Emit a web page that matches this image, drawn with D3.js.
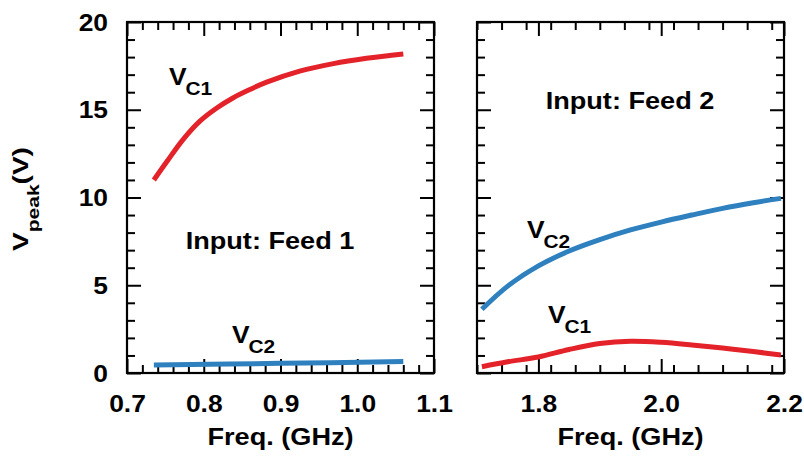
<!DOCTYPE html>
<html>
<head>
<meta charset="utf-8">
<script src="https://cdn.jsdelivr.net/npm/d3@7"></script>
<style>
  html, body { margin: 0; padding: 0; background: #fff; }
  svg text { font-family: "Liberation Sans", Arial, Helvetica, sans-serif; font-weight: bold; fill: #000; }
</style>
</head>
<body>
<svg id="chart" width="804" height="457"></svg>
<script>
// ---- Input: Feed 1 (0.7–1.1 GHz) ----
const feed1Freq = [0.735, 0.752, 0.773, 0.795, 0.817, 0.838, 0.860, 0.882, 0.925, 0.969, 1.012, 1.06];
const feed1Vc1  = [11.0, 12.05, 13.3, 14.35, 15.1, 15.67, 16.15, 16.57, 17.2, 17.63, 17.93, 18.18];
const feed1Vc2Freq = [0.735, 0.90, 1.06];
const feed1Vc2     = [0.45, 0.55, 0.65];

// ---- Input: Feed 2 (1.7–2.2 GHz) ----
const feed2Freq = [1.708, 1.75, 1.80, 1.85, 1.90, 1.95, 2.00, 2.05, 2.10, 2.15, 2.195];
const feed2Vc2  = [3.63, 4.95, 6.1, 6.95, 7.6, 8.15, 8.6, 9.0, 9.38, 9.7, 9.95];
const feed2Vc1  = [0.36, 0.64, 0.91, 1.34, 1.68, 1.81, 1.75, 1.6, 1.42, 1.22, 1.03];

// ---- axis ticks ----
const yTicks = [0, 5, 10, 15, 20];
const leftXTicks = [0.7, 0.8, 0.9, 1.0, 1.1];
const rightXTicks = [1.8, 2.0, 2.2];

const RED = "#e42229";
const BLUE = "#2f80bf";
const SX = 1.1;   // horizontal stretch of the bold lettering
const SXT = 1.13; // stretch for the axis titles and notes

const svg = d3.select("#chart");

const plotTop = 22, plotBottom = 373;
const y = d3.scaleLinear().domain([0, 20]).range([plotBottom, plotTop]);

const panels = [
  { x0: 127, x1: 434, domain: [0.7, 1.1], major: leftXTicks, minorStep: 0.02, yLabels: true },
  { x0: 477, x1: 784, domain: [1.7, 2.2], major: rightXTicks, minorStep: 0.04, yLabels: false }
];

const MAJOR = 14, MINOR = 8;
const yMinor = d3.range(0, 21, 1);

function styleAxis(g) {
  g.select(".domain").remove();
  g.selectAll(".tick line").attr("stroke", "#000").attr("stroke-width", 2);
}

panels.forEach(p => {
  p.x = d3.scaleLinear().domain(p.domain).range([p.x0, p.x1]);
  const minor = d3.range(p.domain[0], p.domain[1] + 1e-9, p.minorStep)
    .map(v => +v.toFixed(3))
    .filter(v => !p.major.some(m => Math.abs(m - v) < 1e-6));
  const g = svg.append("g");

  // bottom
  g.append("g").attr("transform", `translate(0,${plotBottom})`)
    .call(d3.axisBottom(p.x).tickValues(minor).tickSize(-MINOR).tickFormat(""))
    .call(styleAxis);
  const bx = g.append("g").attr("transform", `translate(0,${plotBottom})`)
    .call(d3.axisBottom(p.x).tickValues(p.major).tickSize(-MAJOR).tickFormat(d3.format(".1f")))
    .call(styleAxis);
  bx.selectAll(".tick text")
    .attr("y", null).attr("dy", null)
    .attr("transform", `translate(0,39) scale(${SX},1)`)
    .attr("font-size", 24).attr("text-anchor", "middle");

  // top
  g.append("g").attr("transform", `translate(0,${plotTop})`)
    .call(d3.axisTop(p.x).tickValues(minor).tickSize(-MINOR).tickFormat(""))
    .call(styleAxis);
  g.append("g").attr("transform", `translate(0,${plotTop})`)
    .call(d3.axisTop(p.x).tickValues(p.major).tickSize(-MAJOR).tickFormat(""))
    .call(styleAxis);

  // left
  const yMinorOnly = yMinor.filter(v => v % 5 !== 0);
  g.append("g").attr("transform", `translate(${p.x0},0)`)
    .call(d3.axisLeft(y).tickValues(yMinorOnly).tickSize(-MINOR).tickFormat(""))
    .call(styleAxis);
  const ly = g.append("g").attr("transform", `translate(${p.x0},0)`)
    .call(d3.axisLeft(y).tickValues(yTicks).tickSize(-MAJOR).tickFormat(p.yLabels ? d3.format("d") : ""))
    .call(styleAxis);
  ly.selectAll(".tick text")
    .attr("x", null).attr("dy", null)
    .attr("transform", `translate(-19,8) scale(${SX},1)`)
    .attr("font-size", 24).attr("text-anchor", "end");

  // right
  g.append("g").attr("transform", `translate(${p.x1},0)`)
    .call(d3.axisRight(y).tickValues(yMinorOnly).tickSize(-MINOR).tickFormat(""))
    .call(styleAxis);
  g.append("g").attr("transform", `translate(${p.x1},0)`)
    .call(d3.axisRight(y).tickValues(yTicks).tickSize(-MAJOR).tickFormat(""))
    .call(styleAxis);

  // frame
  g.append("rect")
    .attr("x", p.x0).attr("y", plotTop)
    .attr("width", p.x1 - p.x0).attr("height", plotBottom - plotTop)
    .attr("fill", "none").attr("stroke", "#000").attr("stroke-width", 2.2);

  // x axis title
  g.append("text")
    .attr("transform", `translate(${(p.x0 + p.x1) / 2},445) scale(${SXT},1)`)
    .attr("text-anchor", "middle").attr("font-size", 24)
    .text("Freq. (GHz)");
});

// curves
const line = xs => d3.line().curve(d3.curveCatmullRom.alpha(0.5)).x(d => xs(d[0])).y(d => y(d[1]));
function drawCurve(p, fx, fy, color) {
  svg.append("path")
    .datum(fx.map((f, i) => [f, fy[i]]))
    .attr("d", line(p.x))
    .attr("fill", "none").attr("stroke", color)
    .attr("stroke-width", 5);
}
drawCurve(panels[0], feed1Vc2Freq, feed1Vc2, BLUE);
drawCurve(panels[0], feed1Freq, feed1Vc1, RED);
drawCurve(panels[1], feed2Freq, feed2Vc2, BLUE);
drawCurve(panels[1], feed2Freq, feed2Vc1, RED);

// series labels V_C1 / V_C2
function seriesLabel(x, yb, sub) {
  const t = svg.append("text")
    .attr("transform", `translate(${x},${yb}) scale(${SX},1)`)
    .attr("font-size", 24);
  t.append("tspan").text("V");
  t.append("tspan").attr("font-size", 19).attr("dy", 10).attr("dx", -1).text(sub);
}
seriesLabel(169, 85, "C1");
seriesLabel(232, 343, "C2");
seriesLabel(527, 238, "C2");
seriesLabel(548, 323, "C1");

// panel notes
svg.append("text")
  .attr("transform", `translate(270,249) scale(${SXT},1)`)
  .attr("text-anchor", "middle").attr("font-size", 24)
  .text("Input: Feed 1");
svg.append("text")
  .attr("transform", `translate(630,109) scale(${SXT},1)`)
  .attr("text-anchor", "middle").attr("font-size", 24)
  .text("Input: Feed 2");

// y axis title
const yt = svg.append("text")
  .attr("transform", `translate(28,199) rotate(-90) scale(1,0.8)`)
  .attr("text-anchor", "middle").attr("font-size", 28);
yt.append("tspan").text("V");
yt.append("tspan").attr("font-size", 21).attr("dy", 14).text("peak");
yt.append("tspan").attr("dy", -14).text("(V)");
</script>
</body>
</html>
